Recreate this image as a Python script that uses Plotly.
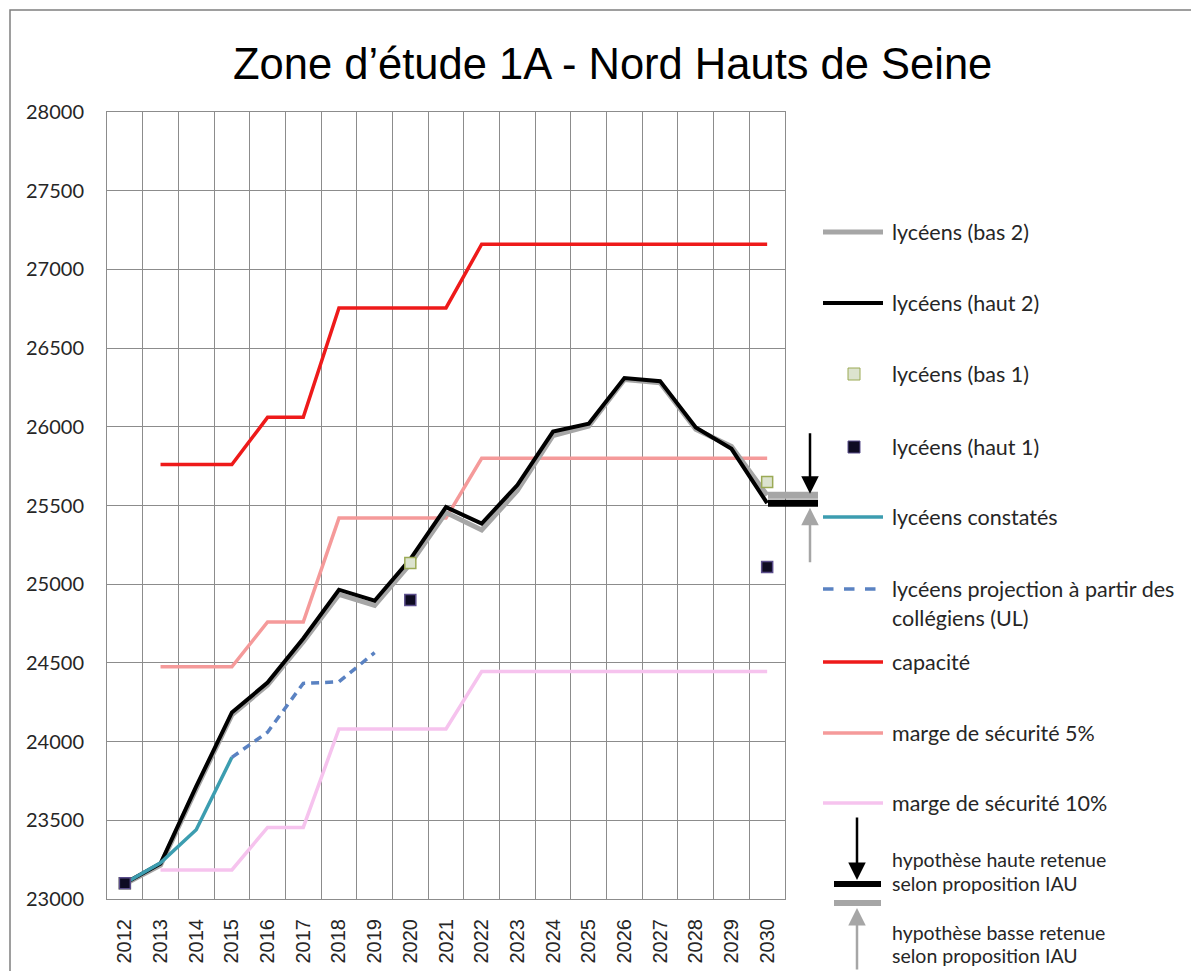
import plotly.graph_objects as go

# ---------------- data ----------------
years = ["2012", "2013", "2014", "2015", "2016", "2017", "2018", "2019", "2020", "2021",
         "2022", "2023", "2024", "2025", "2026", "2027", "2028", "2029", "2030"]

lyceens_haut2 = [23100, 23225, 23715, 24185, 24375, 24655, 24965, 24895, 25160, 25490,
                 25385, 25630, 25970, 26020, 26310, 26290, 25995, 25860, 25515]
lyceens_bas2 = [23095, 23215, 23700, 24170, 24360, 24635, 24935, 24865, 25130, 25455,
                25345, 25595, 25945, 26005, 26300, 26280, 25985, 25875, 25565]

years_1 = ["2012", "2020", "2030"]
lyceens_bas1 = [23100, 25135, 25650]
lyceens_haut1 = [23100, 24900, 25110]

years_constates = ["2012", "2013", "2014", "2015"]
lyceens_constates = [23100, 23230, 23440, 23900]

years_projection = ["2015", "2016", "2017", "2018", "2019"]
lyceens_projection = [23900, 24060, 24370, 24380, 24565]

years_cap = years[1:]
capacite = [25760, 25760, 25760, 26060, 26060, 26755, 26755, 26755, 26755,
            27160, 27160, 27160, 27160, 27160, 27160, 27160, 27160, 27160]
marge_5 = [24475, 24475, 24475, 24760, 24760, 25420, 25420, 25420, 25420,
           25800, 25800, 25800, 25800, 25800, 25800, 25800, 25800, 25800]
marge_10 = [23185, 23185, 23185, 23455, 23455, 24080, 24080, 24080, 24080,
            24445, 24445, 24445, 24445, 24445, 24445, 24445, 24445, 24445]

hyp_haute = 25515
hyp_basse = 25565

y_min, y_max, y_step = 23000, 28000, 500

legend_labels = ["lycéens (bas 2)", "lycéens (haut 2)", "lycéens (bas 1)", "lycéens (haut 1)",
                 "lycéens constatés", "lycéens projection à partir des", "collégiens (UL)",
                 "capacité", "marge de sécurité 5%", "marge de sécurité 10%"]
hyp_labels = ["hypothèse haute retenue", "selon proposition IAU",
              "hypothèse basse retenue", "selon proposition IAU"]

title = "Zone d’étude 1A - Nord Hauts de Seine"

# ---------------- styling ----------------
W, H = 1191, 971
# plot area in page pixels
L, R, T, B = 107, 785, 112, 899

C_GRAY = "#A6A6A6"
C_BLACK = "#000000"
C_TEAL = "#3C9DB0"
C_DASH = "#5A82C2"
C_RED = "#EE1A1A"
C_PINK = "#F59A9A"
C_LPINK = "#F6C3EE"
GRID = "#8C8C8C"
TXT = "#262626"


def px(x):
    return (x - L) / (R - L)


def py(y):
    return (B - y) / (B - T)


def pv(v):
    return (v - y_min) / (y_max - y_min)


fig = go.Figure()

fig.add_trace(go.Scatter(x=years_cap, y=marge_10, mode="lines",
                         line=dict(color=C_LPINK, width=3.5), name="marge de sécurité 10%"))
fig.add_trace(go.Scatter(x=years_cap, y=marge_5, mode="lines",
                         line=dict(color=C_PINK, width=3.5), name="marge de sécurité 5%"))
fig.add_trace(go.Scatter(x=years_cap, y=capacite, mode="lines",
                         line=dict(color=C_RED, width=3.5), name="capacité"))
fig.add_trace(go.Scatter(x=years, y=lyceens_bas2, mode="lines",
                         line=dict(color=C_GRAY, width=5), name="lycéens (bas 2)"))
fig.add_trace(go.Scatter(x=years, y=lyceens_haut2, mode="lines",
                         line=dict(color=C_BLACK, width=4), name="lycéens (haut 2)"))
fig.add_trace(go.Scatter(x=years_constates, y=lyceens_constates, mode="lines",
                         line=dict(color=C_TEAL, width=3.5), name="lycéens constatés"))
fig.add_trace(go.Scatter(x=years_projection, y=lyceens_projection, mode="lines",
                         line=dict(color=C_DASH, width=3.5, dash="8px,6px"),
                         name="lycéens projection à partir des collégiens (UL)"))
fig.add_trace(go.Scatter(x=years_1, y=lyceens_bas1, mode="markers",
                         marker=dict(symbol="square", size=11, color="#DCE3CF",
                                     line=dict(color="#9BAA55", width=1.5)),
                         name="lycéens (bas 1)"))
fig.add_trace(go.Scatter(x=years_1, y=lyceens_haut1, mode="markers",
                         marker=dict(symbol="square", size=11, color="#0E0B22",
                                     line=dict(color="#5B4E8C", width=1.5)),
                         name="lycéens (haut 1)"))

shapes = []
annotations = []

# outer chart border
shapes.append(dict(type="rect", xref="paper", yref="paper",
                   x0=px(10), x1=px(1205), y0=py(990), y1=py(10),
                   line=dict(color="#7F7F7F", width=1.5), fillcolor="rgba(0,0,0,0)"))

# hypothesis bars at 2030 (plot)
shapes.append(dict(type="line", xref="paper", yref="paper",
                   x0=px(768), x1=px(818), y0=pv(hyp_basse), y1=pv(hyp_basse),
                   line=dict(color=C_GRAY, width=7)))
shapes.append(dict(type="line", xref="paper", yref="paper",
                   x0=px(768), x1=px(818), y0=pv(hyp_haute), y1=pv(hyp_haute),
                   line=dict(color=C_BLACK, width=7)))
annotations.append(dict(xref="paper", yref="paper", x=px(810), y=pv(hyp_basse) + 0.002,
                        ax=0, ay=-62, text="", showarrow=True, arrowhead=2,
                        arrowsize=1.4, arrowwidth=2.5, arrowcolor=C_BLACK))
annotations.append(dict(xref="paper", yref="paper", x=px(810), y=pv(hyp_haute) - 0.006,
                        ax=0, ay=56, text="", showarrow=True, arrowhead=2,
                        arrowsize=1.4, arrowwidth=2.5, arrowcolor=C_GRAY))

# manual legend
LX0, LX1, TX = 823, 883, 890
leg_y = [232, 303, 374, 447, 517, 589, 618, 662, 733, 803]
line_items = {0: (C_GRAY, 5, None), 1: (C_BLACK, 4, None), 4: (C_TEAL, 3.5, None),
              5: (C_DASH, 3.5, "dash"), 7: (C_RED, 3.5, None), 8: (C_PINK, 3.5, None),
              9: (C_LPINK, 3.5, None)}
for i, (col, w, dash) in line_items.items():
    ln = dict(color=col, width=w)
    if dash:
        ln["dash"] = dash
    shapes.append(dict(type="line", xref="paper", yref="paper",
                       x0=px(LX0), x1=px(LX1), y0=py(leg_y[i]), y1=py(leg_y[i]), line=ln))
for i, (fill, edge) in {2: ("#DCE3CF", "#9BAA55"), 3: ("#0E0B22", "#5B4E8C")}.items():
    shapes.append(dict(type="rect", xref="paper", yref="paper",
                       x0=px(848), x1=px(860), y0=py(leg_y[i] + 6), y1=py(leg_y[i] - 6),
                       line=dict(color=edge, width=1), fillcolor=fill))
for lab, yy in zip(legend_labels, leg_y):
    annotations.append(dict(xref="paper", yref="paper", x=px(TX), y=py(yy),
                            xanchor="left", yanchor="middle", text=lab, showarrow=False,
                            font=dict(family="Lato", size=21.5, color=TXT)))

# hypothesis legend symbols
shapes.append(dict(type="line", xref="paper", yref="paper",
                   x0=px(834), x1=px(881), y0=py(884), y1=py(884),
                   line=dict(color=C_BLACK, width=6)))
shapes.append(dict(type="line", xref="paper", yref="paper",
                   x0=px(834), x1=px(881), y0=py(903), y1=py(903),
                   line=dict(color=C_GRAY, width=6)))
annotations.append(dict(xref="paper", yref="paper", x=px(857), y=py(880),
                        ax=0, ay=-64, text="", showarrow=True, arrowhead=2,
                        arrowsize=1.4, arrowwidth=2.5, arrowcolor=C_BLACK))
annotations.append(dict(xref="paper", yref="paper", x=px(857), y=py(908),
                        ax=0, ay=70, text="", showarrow=True, arrowhead=2,
                        arrowsize=1.4, arrowwidth=2.5, arrowcolor=C_GRAY))
for lab, yy in zip(hyp_labels, [859, 883, 932, 955]):
    annotations.append(dict(xref="paper", yref="paper", x=px(TX), y=py(yy),
                            xanchor="left", yanchor="middle", text=lab, showarrow=False,
                            font=dict(family="Lato", size=19.5, color=TXT)))

# title
annotations.append(dict(xref="paper", yref="paper", x=px(612), y=py(64),
                        xanchor="center", yanchor="middle", text=title, showarrow=False,
                        font=dict(family="Liberation Sans, Arial", size=43.5, color="#000000")))

fig.update_layout(
    width=W, height=H,
    margin=dict(l=L, r=W - R, t=T, b=H - B, pad=0, autoexpand=False),
    paper_bgcolor="white", plot_bgcolor="white",
    showlegend=False,
    shapes=shapes, annotations=annotations,
)
fig.update_xaxes(type="category", categoryorder="array", categoryarray=years,
                 range=[-0.5, len(years) - 0.5], tickson="boundaries",
                 showgrid=True, gridcolor=GRID, gridwidth=1,
                 showline=True, linecolor=GRID, linewidth=1, mirror=True,
                 ticks="", tickangle=-90, ticklabelstandoff=11, automargin=False,
                 tickfont=dict(family="Liberation Sans, Arial", size=20, color=TXT),
                 zeroline=False, fixedrange=True)
fig.update_yaxes(range=[y_min, y_max], dtick=y_step, tick0=y_min,
                 showgrid=True, gridcolor=GRID, gridwidth=1,
                 showline=True, linecolor=GRID, linewidth=1, mirror=True,
                 ticks="", ticklabelstandoff=18, tickformat="d", automargin=False,
                 tickfont=dict(family="Lato", size=20, color=TXT),
                 zeroline=False, fixedrange=True)

fig.write_html("out.html",
               config={"displayModeBar": False, "staticPlot": True},
               post_script="document.body.style.margin='0px';"
                           "document.documentElement.style.overflow='hidden';")
